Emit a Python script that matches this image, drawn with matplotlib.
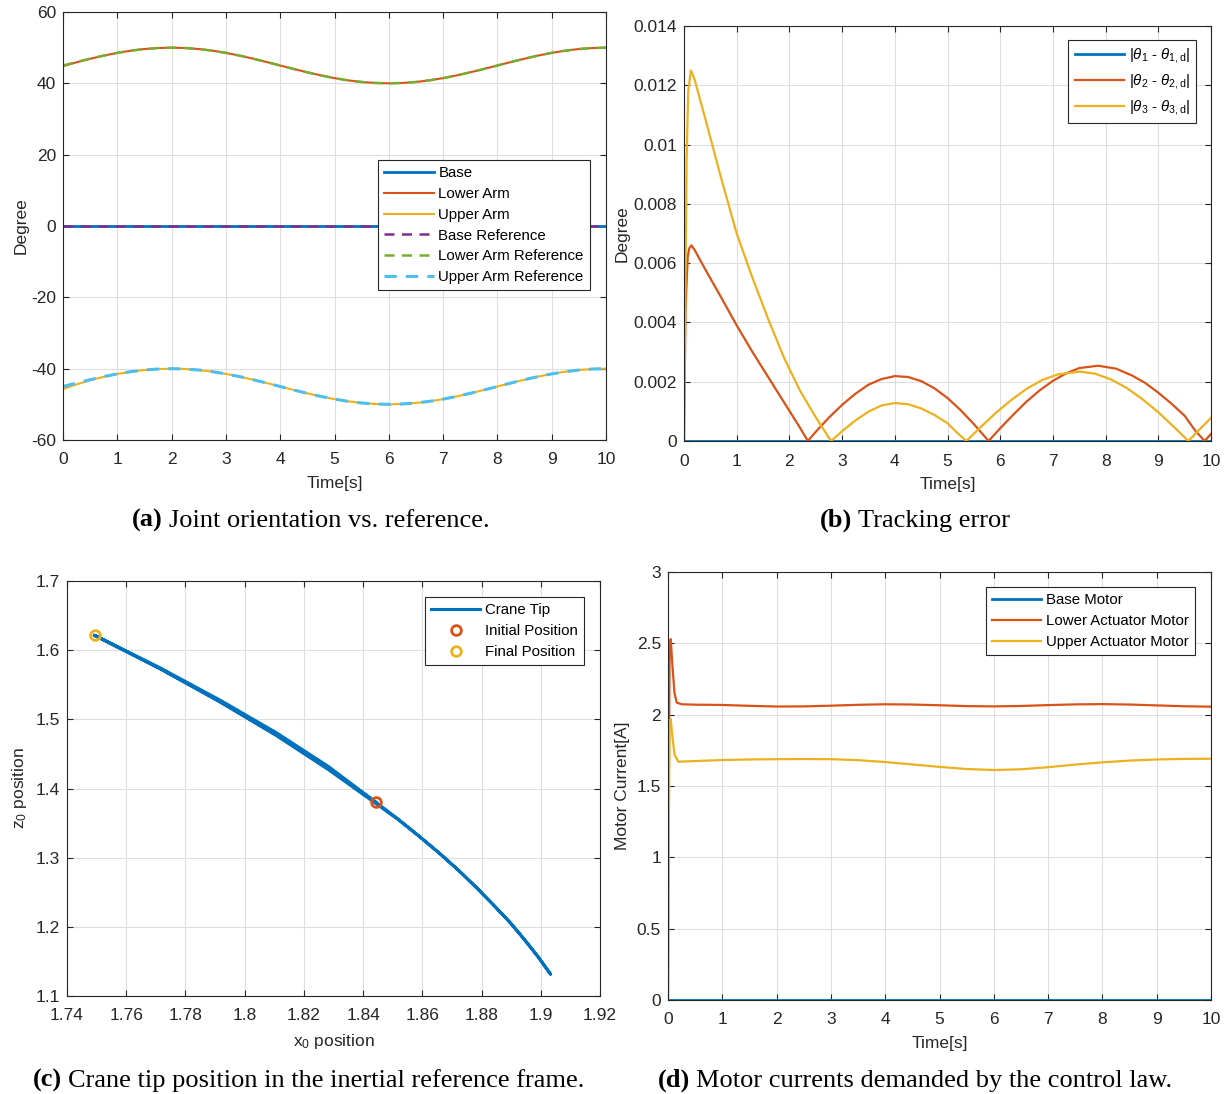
import matplotlib
matplotlib.use("Agg")
import matplotlib.pyplot as plt
from matplotlib.text import Annotation

plt.rcParams['font.family'] = ['Liberation Sans', 'DejaVu Sans']
plt.rcParams['mathtext.fontset'] = 'custom'
plt.rcParams['mathtext.rm'] = 'Liberation Sans'
plt.rcParams['mathtext.it'] = 'Liberation Sans:italic'
plt.rcParams['mathtext.bf'] = 'Liberation Sans:bold'
plt.rcParams['axes.unicode_minus'] = False

# ---------------- data ----------------
# (a) joint orientation [deg], sampled every 0.25 s
t_a = [0, 0.25, 0.5, 0.75, 1, 1.25, 1.5, 1.75, 2, 2.25, 2.5, 2.75, 3, 3.25, 3.5, 3.75,
       4, 4.25, 4.5, 4.75, 5, 5.25, 5.5, 5.75, 6, 6.25, 6.5, 6.75, 7, 7.25, 7.5, 7.75,
       8, 8.25, 8.5, 8.75, 9, 9.25, 9.5, 9.75, 10]
base_ref = [0.0] * 41
lower_ref = [45.00, 45.98, 46.91, 47.78, 48.54, 49.16, 49.62, 49.90, 50.00, 49.90, 49.62,
             49.16, 48.54, 47.78, 46.91, 45.98, 45.00, 44.02, 43.09, 42.22, 41.46, 40.84,
             40.38, 40.10, 40.00, 40.10, 40.38, 40.84, 41.46, 42.22, 43.09, 44.02, 45.00,
             45.98, 46.91, 47.78, 48.54, 49.16, 49.62, 49.90, 50.00]
upper_ref = [-45.00, -44.02, -43.09, -42.22, -41.46, -40.84, -40.38, -40.10, -40.00, -40.10,
             -40.38, -40.84, -41.46, -42.22, -43.09, -44.02, -45.00, -45.98, -46.91, -47.78,
             -48.54, -49.16, -49.62, -49.90, -50.00, -49.90, -49.62, -49.16, -48.54, -47.78,
             -46.91, -45.98, -45.00, -44.02, -43.09, -42.22, -41.46, -40.84, -40.38, -40.10,
             -40.00]
base_act = [0.0] * 41
lower_act = [44.80, 45.90, 46.88, 47.77, 48.54, 49.16, 49.62, 49.90, 50.00, 49.90, 49.62,
             49.16, 48.54, 47.78, 46.91, 45.98, 45.00, 44.02, 43.09, 42.22, 41.46, 40.84,
             40.38, 40.10, 40.00, 40.10, 40.38, 40.84, 41.46, 42.22, 43.09, 44.02, 45.00,
             45.98, 46.91, 47.78, 48.54, 49.16, 49.62, 49.90, 50.00]
upper_act = [-45.70, -44.40, -43.25, -42.28, -41.48, -40.85, -40.38, -40.10, -40.00, -40.10,
             -40.38, -40.84, -41.46, -42.22, -43.09, -44.02, -45.00, -45.98, -46.91, -47.78,
             -48.54, -49.16, -49.62, -49.90, -50.00, -49.90, -49.62, -49.16, -48.54, -47.78,
             -46.91, -45.98, -45.00, -44.02, -43.09, -42.22, -41.46, -40.84, -40.38, -40.10,
             -40.00]

# (b) tracking error [deg]
t_e1 = [0, 10]
err1 = [0, 0]
t_e2 = [0, 0.03, 0.07, 0.1, 0.14, 0.2, 0.4, 0.7, 1.0, 1.3, 1.6, 1.9, 2.2, 2.35, 2.5, 2.75,
        3.0, 3.25, 3.5, 3.75, 4.0, 4.25, 4.5, 4.75, 5.0, 5.25, 5.5, 5.78, 6.0, 6.25, 6.5,
        6.75, 7.0, 7.25, 7.5, 7.86, 8.2, 8.5, 8.75, 9.0, 9.25, 9.5, 9.7, 9.88, 10]
err2 = [0, 0.0045, 0.0062, 0.0065, 0.0066, 0.00645, 0.0058, 0.00486, 0.0039, 0.0030,
        0.00215, 0.0013, 0.00045, 0, 0.00031, 0.00079, 0.00122, 0.00159, 0.0019, 0.00209,
        0.00219, 0.00216, 0.00202, 0.00178, 0.00145, 0.00104, 0.00057, 0, 0.00043, 0.00089,
        0.00133, 0.00171, 0.00203, 0.00228, 0.00246, 0.00254, 0.00244, 0.00221, 0.00196,
        0.00163, 0.00126, 0.00085, 0.00035, 0, 0.00024]
t_e3 = [0, 0.02, 0.05, 0.08, 0.13, 0.2, 0.4, 0.7, 1.0, 1.3, 1.6, 1.9, 2.2, 2.5, 2.79,
        3.0, 3.25, 3.5, 3.75, 4.0, 4.25, 4.5, 4.75, 5.0, 5.2, 5.36, 5.6, 5.9, 6.2, 6.5,
        6.8, 7.1, 7.51, 7.8, 8.1, 8.4, 8.7, 9.0, 9.3, 9.57, 9.8, 10]
err3 = [0, 0.004, 0.0095, 0.0118, 0.0125, 0.0122, 0.0109, 0.0089, 0.0070, 0.0055, 0.0041,
        0.0028, 0.0017, 0.0008, 0, 0.00033, 0.00069, 0.00099, 0.0012, 0.00128, 0.00124,
        0.0011, 0.00088, 0.0006, 0.00025, 0, 0.00042, 0.00092, 0.00137, 0.00176, 0.00206,
        0.00225, 0.00234, 0.00227, 0.00208, 0.00179, 0.00141, 0.00097, 0.00047, 0, 0.00042,
        0.00078]

# (c) crane tip trajectory (x0, z0)
tip_x = [1.8444, 1.8283, 1.8107, 1.7916, 1.7712, 1.7493,
         1.7712, 1.7916, 1.8107, 1.8283, 1.8444, 1.8520, 1.8590, 1.8659, 1.8724, 1.8784,
         1.8841, 1.8896, 1.8945, 1.8991, 1.9033,
         1.8991, 1.8945, 1.8896, 1.8841, 1.8784, 1.8724, 1.8659, 1.8590, 1.8520, 1.8444,
         1.8283, 1.8107, 1.7916, 1.7712, 1.7493]
tip_z = [1.3799, 1.4318, 1.4807, 1.5280, 1.5750, 1.6214,
         1.5740, 1.5260, 1.4777, 1.4288, 1.3799, 1.3552, 1.3307, 1.3059, 1.2810, 1.2562,
         1.2313, 1.2064, 1.1815, 1.1566, 1.1316,
         1.1566, 1.1815, 1.2064, 1.2313, 1.2562, 1.2810, 1.3059, 1.3307, 1.3545, 1.3780,
         1.4272, 1.4765, 1.5252, 1.5736, 1.6214]
init_pos = (1.8444, 1.3799)
final_pos = (1.7493, 1.6214)

# (d) motor currents [A]
t_m1 = [0, 10]
cur1 = [0, 0]
t_m2 = [0, 0.01, 0.03, 0.05, 0.08, 0.12, 0.16, 0.25, 0.5, 1, 1.5, 2, 2.5, 3, 3.5, 4, 4.5,
        5, 5.5, 6, 6.5, 7, 7.5, 8, 8.5, 9, 9.5, 10]
cur2 = [0, 1.2, 2.45, 2.53, 2.35, 2.15, 2.085, 2.073, 2.070, 2.068, 2.062, 2.057, 2.058,
        2.063, 2.069, 2.073, 2.071, 2.066, 2.060, 2.058, 2.061, 2.067, 2.072, 2.074, 2.071,
        2.065, 2.059, 2.056]
t_m3 = [0, 0.01, 0.03, 0.05, 0.08, 0.12, 0.19, 0.3, 0.5, 1, 1.5, 2, 2.5, 3, 3.5, 4, 4.5,
        5, 5.5, 6, 6.5, 7, 7.5, 8, 8.5, 9, 9.5, 10]
cur3 = [0, 1.0, 1.9, 1.97, 1.85, 1.72, 1.67, 1.672, 1.675, 1.682, 1.686, 1.688, 1.689,
        1.688, 1.681, 1.668, 1.651, 1.634, 1.619, 1.612, 1.617, 1.632, 1.650, 1.666, 1.678,
        1.686, 1.690, 1.691]

# ---------------- style ----------------
C_BLUE, C_RED, C_YEL = '#0072BD', '#D95319', '#EDB120'
C_PUR, C_GRN, C_CYA = '#7E2F8E', '#77AC30', '#4DBEEE'
TXT = '#262626'
W, H = 1231, 1094

fig = plt.figure(figsize=(W / 100, H / 100), dpi=100)


def make_ax(l, r, t, b):
    ax = fig.add_axes([l / W, 1 - b / H, (r - l) / W, (b - t) / H])
    ax.grid(True, color='#dedede', linewidth=0.8)
    ax.set_axisbelow(True)
    for s in ax.spines.values():
        s.set_color(TXT)
        s.set_linewidth(0.8)
    ax.tick_params(direction='in', top=True, right=True, length=4, width=0.8,
                   colors=TXT, labelsize=12.5, labelcolor=TXT)
    ax.tick_params(axis='x', pad=9)
    ax.tick_params(axis='y', pad=5)
    return ax


def legend(ax, x, y, **kw):
    lg = ax.legend(loc='upper right', bbox_to_anchor=(x, y), fontsize=10.8,
                   fancybox=False, framealpha=1, edgecolor=TXT, borderaxespad=0,
                   handlelength=3.3, handletextpad=0.3, labelspacing=0.45,
                   borderpad=0.42, **kw)
    lg.get_frame().set_linewidth(0.8)
    for tx in lg.get_texts():
        tx.set_color('black')
    return lg


XL = dict(fontsize=12.5, color=TXT, labelpad=6)
YL = dict(fontsize=12.5, color=TXT, labelpad=5)

# (a)
ax = make_ax(63, 606, 12, 440)
ax.plot(t_a, base_act, color=C_BLUE, lw=2, label='Base')
ax.plot(t_a, lower_act, color=C_RED, lw=1.5, label='Lower Arm')
ax.plot(t_a, upper_act, color=C_YEL, lw=1.5, label='Upper Arm')
ax.plot(t_a, base_ref, color=C_PUR, lw=1.8, ls=(0, (4, 3)), label='Base Reference')
ax.plot(t_a, lower_ref, color=C_GRN, lw=1.8, ls=(0, (4, 3)), label='Lower Arm Reference')
ax.plot(t_a, upper_ref, color=C_CYA, lw=2.2, ls=(0, (4, 3)), label='Upper Arm Reference')
ax.set_xlim(0, 10)
ax.set_ylim(-60, 60)
ax.set_xticks(range(0, 11))
ax.set_yticks(range(-60, 61, 20))
ax.set_xlabel('Time[s]', **XL)
ax.set_ylabel('Degree', fontsize=12.5, color=TXT, labelpad=2)
legend(ax, 0.9705, 0.654)

# (b)
ax = make_ax(684, 1211, 26, 441)
ax.plot(t_e1, err1, color=C_BLUE, lw=2, label=r'|$\theta_1$ - $\theta_{1,\mathrm{d}}$|')
ax.plot(t_e2, err2, color=C_RED, lw=1.6, label=r'|$\theta_2$ - $\theta_{2,\mathrm{d}}$|')
ax.plot(t_e3, err3, color=C_YEL, lw=1.6, label=r'|$\theta_3$ - $\theta_{3,\mathrm{d}}$|')
ax.set_xlim(0, 10)
ax.set_ylim(0, 0.014)
ax.set_xticks(range(0, 11))
yt = [0, 0.002, 0.004, 0.006, 0.008, 0.01, 0.012, 0.014]
ax.set_yticks(yt)
ax.set_yticklabels(['0', '0.002', '0.004', '0.006', '0.008', '0.01', '0.012', '0.014'])
ax.set_xlabel('Time[s]', **XL)
ax.set_ylabel('Degree', fontsize=12.5, color=TXT, labelpad=3)
legend(ax, 0.9715, 0.966)

# (c)
ax = make_ax(67, 600, 581, 996)
ax.plot(tip_x, tip_z, color=C_BLUE, lw=2.2, label='Crane Tip')
ax.plot([init_pos[0]], [init_pos[1]], 'o', mfc='none', mec=C_RED, mew=2, ms=7,
        label='Initial Position')
ax.plot([final_pos[0]], [final_pos[1]], 'o', mfc='none', mec=C_YEL, mew=2, ms=7,
        label='Final Position')
ax.set_xlim(1.74, 1.92)
ax.set_ylim(1.1, 1.7)
xt = [1.74, 1.76, 1.78, 1.80, 1.82, 1.84, 1.86, 1.88, 1.90, 1.92]
ax.set_xticks(xt)
ax.set_xticklabels(['1.74', '1.76', '1.78', '1.8', '1.82', '1.84', '1.86', '1.88', '1.9', '1.92'])
yt = [1.1, 1.2, 1.3, 1.4, 1.5, 1.6, 1.7]
ax.set_yticks(yt)
ax.set_yticklabels(['1.1', '1.2', '1.3', '1.4', '1.5', '1.6', '1.7'])
ax.set_xlabel(r'x$_0$ position', **XL)
ax.set_ylabel(r'z$_0$ position', **YL)
legend(ax, 0.970, 0.961)

# (d)
ax = make_ax(668, 1211, 572, 1000)
ax.plot(t_m1, cur1, color=C_BLUE, lw=2, label='Base Motor')
ax.plot(t_m2, cur2, color=C_RED, lw=1.6, label='Lower Actuator Motor')
ax.plot(t_m3, cur3, color=C_YEL, lw=1.6, label='Upper Actuator Motor')
ax.set_xlim(0, 10)
ax.set_ylim(0, 3)
ax.set_xticks(range(0, 11))
ax.set_yticks([0, 0.5, 1, 1.5, 2, 2.5, 3])
ax.set_yticklabels(['0', '0.5', '1', '1.5', '2', '2.5', '3'])
ax.set_xlabel('Time[s]', **XL)
ax.set_ylabel('Motor Current[A]', **YL)
legend(ax, 0.9705, 0.965)


# captions
def caption(x_px, y_px, bold, rest):
    t = fig.text(x_px / W, 1 - y_px / H, bold, fontfamily='Liberation Serif',
                 fontweight='bold', fontsize=19, ha='left', va='baseline')
    a = Annotation(rest, xy=(1, 0), xycoords=t, xytext=(4.5, 0), textcoords='offset points',
                   fontfamily='Liberation Serif', fontsize=19, ha='left', va='bottom')
    fig.add_artist(a)


caption(132, 527, '(a)', 'Joint orientation vs. reference.')
caption(820, 527, '(b)', 'Tracking error')
caption(33, 1087, '(c)', 'Crane tip position in the inertial reference frame.')
caption(658, 1087, '(d)', 'Motor currents demanded by the control law.')

fig.savefig('out.png', dpi=100)
